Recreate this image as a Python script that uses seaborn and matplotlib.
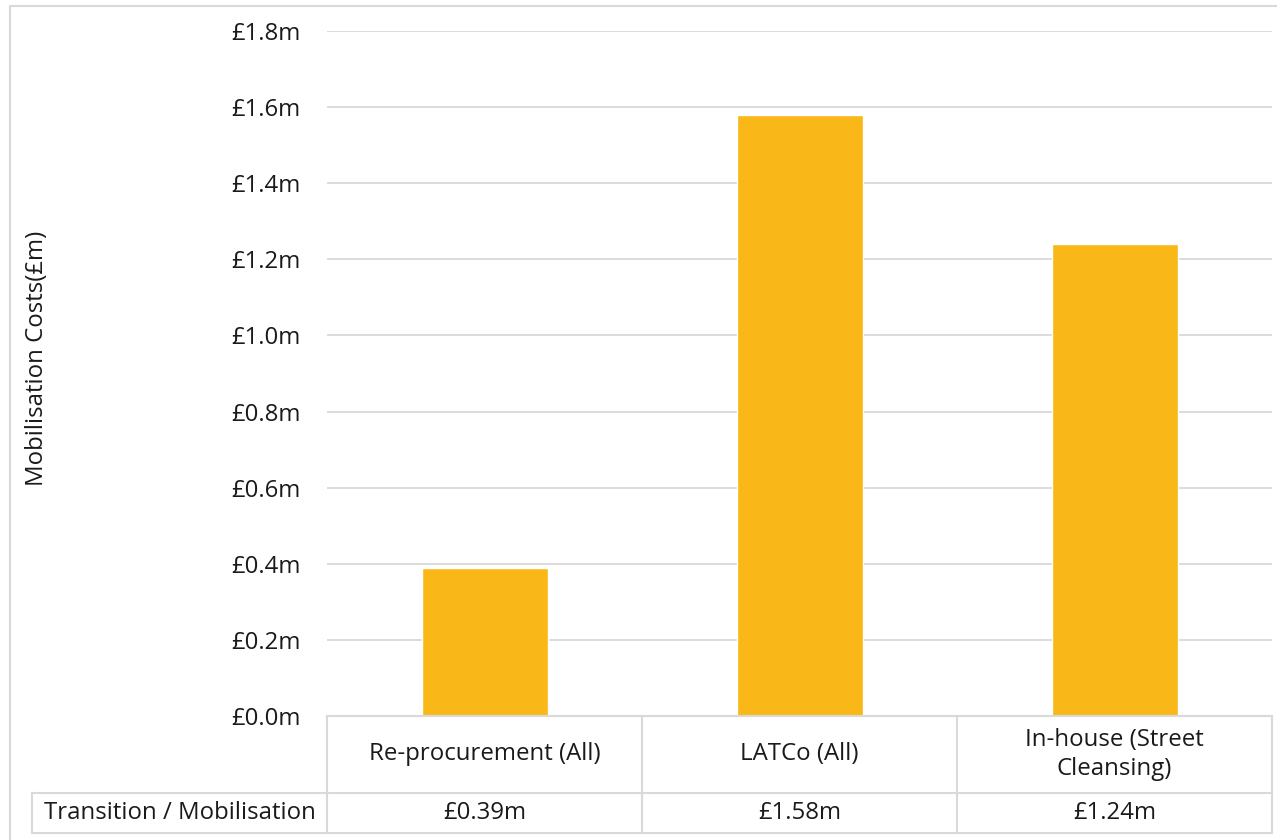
import matplotlib
matplotlib.use("Agg")
import matplotlib.pyplot as plt
from matplotlib.ticker import FuncFormatter
from matplotlib.lines import Line2D
from matplotlib.patches import Rectangle
import matplotlib.transforms as mtransforms
import seaborn as sns
import pandas as pd

# Mobilisation cost per delivery option (£m)
categories = ["Re-procurement (All)", "LATCo (All)", "In-house (Street\nCleansing)"]
values = [0.39, 1.58, 1.24]
series_name = "Transition / Mobilisation"
y_ticks = [0.0, 0.2, 0.4, 0.6, 0.8, 1.0, 1.2, 1.4, 1.6, 1.8]

sns.set_theme(style="white")
plt.rcParams["font.family"] = ["Open Sans", "DejaVu Sans"]
FS = 17.3
TXT = "#1a1a1a"

W, H = 1277, 840
fig = plt.figure(figsize=(W / 100, H / 100), dpi=100)
fig.patch.set_facecolor("white")

def fx(px):
    return px / W

def fy(py):
    return 1 - py / H

# plot area in pixel terms
left, right, top, bottom = 327, 1272, 31, 716
ax = fig.add_axes([fx(left), fy(bottom), fx(right - left), (bottom - top) / H])

df = pd.DataFrame({"option": categories, "cost": values})
sns.barplot(data=df, x="option", y="cost", color="#F9B818", width=0.4,
            saturation=1, ax=ax, zorder=3)

ax.set_xlim(-0.5, len(categories) - 0.5)
ax.set_ylim(0, y_ticks[-1])
ax.set_yticks(y_ticks)
ax.yaxis.set_major_formatter(FuncFormatter(lambda v, _: f"£{v:.1f}m"))
ax.tick_params(axis="y", length=0, pad=19, labelsize=FS, labelcolor=TXT)
ax.set_xticks([])
ax.set_xlabel("")
ax.set_ylabel("")
ax.grid(axis="y", color="#D9D9D9", linewidth=1.3, zorder=0)
ax.set_axisbelow(True)
for s in ax.spines.values():
    s.set_visible(False)

# y-axis title
fig.text(fx(37), fy(358), "Mobilisation Costs(£m)", rotation=90,
         ha="center", va="center", fontsize=FS, color=TXT)

# data table under the plot area
line_kw = dict(color="#D9D9D9", linewidth=1.5, clip_on=False, zorder=5)
ax_h = bottom - top
row1_bot = -(793 - bottom) / ax_h
row2_bot = -(833 - bottom) / ax_h
header_left = -0.5 + (32 - left) / ((right - left) / len(categories))
trans = mtransforms.blended_transform_factory(ax.transData, ax.transAxes)

n = len(categories)
ax.add_line(Line2D([-0.5, n - 0.5], [0, 0], transform=trans, **line_kw))
ax.add_line(Line2D([header_left, n - 0.5], [row1_bot, row1_bot], transform=trans, **line_kw))
ax.add_line(Line2D([header_left, n - 0.5], [row2_bot, row2_bot], transform=trans, **line_kw))
ax.add_line(Line2D([header_left, header_left], [row1_bot, row2_bot], transform=trans, **line_kw))
for i in range(n + 1):
    xb = i - 0.5
    ax.add_line(Line2D([xb, xb], [0, row2_bot], transform=trans, **line_kw))

for i, (cat, val) in enumerate(zip(categories, values)):
    ax.text(i, row1_bot / 2, cat, transform=trans, ha="center", va="center",
            fontsize=FS, color=TXT, linespacing=1.3)
    ax.text(i, (row1_bot + row2_bot) / 2, f"£{val:.2f}m", transform=trans,
            ha="center", va="center", fontsize=FS, color=TXT)
ax.text((header_left - 0.5) / 2, (row1_bot + row2_bot) / 2, series_name,
        transform=trans, ha="center", va="center", fontsize=FS, color=TXT)

# chart frame
fig.patches.append(Rectangle((fx(10), fy(900)), fx(1400), (900 - 6) / H,
                             transform=fig.transFigure, fill=False,
                             edgecolor="#D9D9D9", linewidth=1.5))

fig.savefig("out.png", dpi=100, facecolor="white")
